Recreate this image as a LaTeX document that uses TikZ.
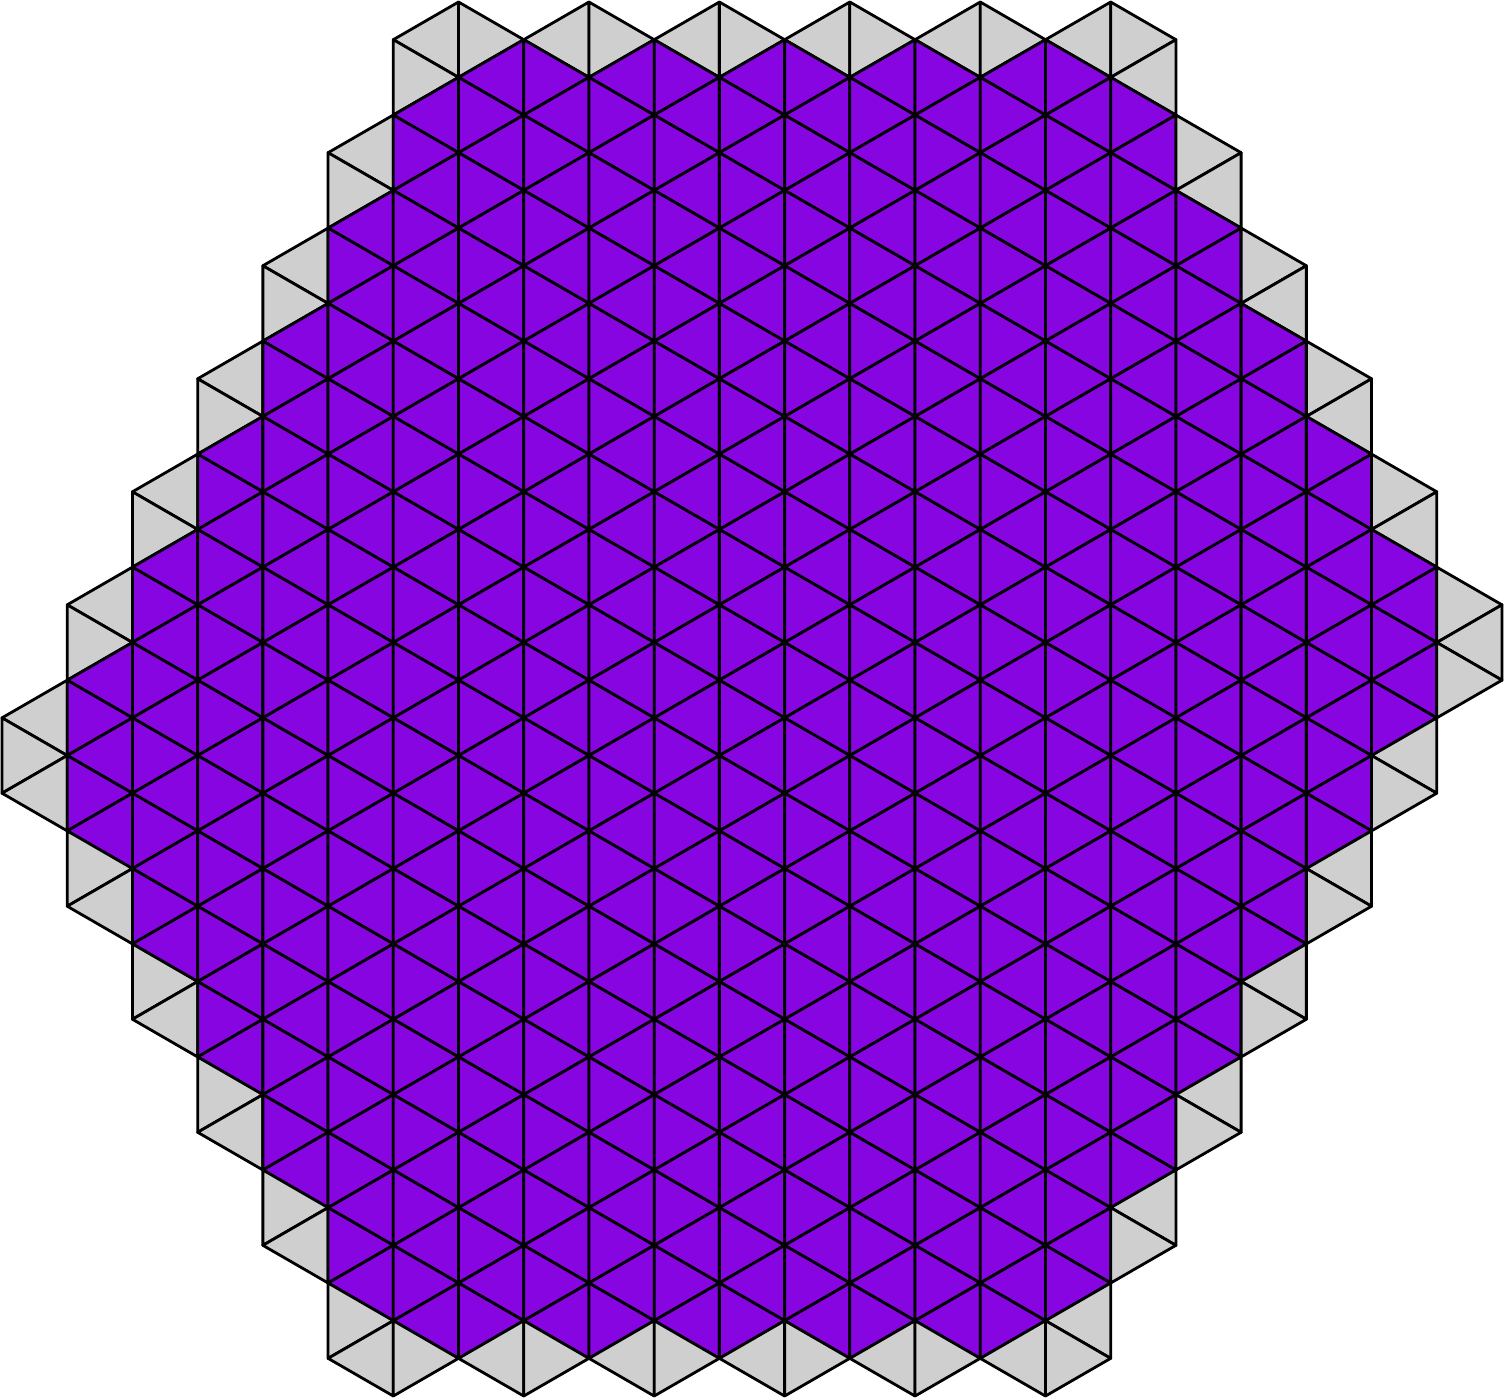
\documentclass[tikz,border=0pt]{standalone}
\definecolor{cellpurple}{RGB}{134,5,224}
\definecolor{cellgray}{RGB}{207,207,207}
\begin{document}
\begin{tikzpicture}[x=0.5pt,y=-0.5pt,
  cell/.style={draw=black,line width=1.4pt,line join=round}]
\useasboundingbox (0,0) rectangle (1504,1398);
\foreach \i in {0,...,22}{
  \pgfmathtruncatemacro\T{max(19-3*\i,1,3*\i-50)}
  \pgfmathtruncatemacro\B{min(21+3*\i,36,84-3*\i)}
  \pgfmathtruncatemacro\GT{or(\i<7,\i>16) ? 2 : 1}
  \pgfmathtruncatemacro\GB{or(\i<6,\i>15) ? 2 : 1}
  \foreach \m in {\T,...,\B}{
    \pgfmathtruncatemacro\pty{mod(\i+\m,2)}
    \pgfmathtruncatemacro\isg{or(\m<\T+\GT,\m>\B-\GB) ? 1 : 0}
    \pgfmathsetmacro\xv{2+(\i+\pty)*65.217}
    \pgfmathsetmacro\xp{2+(\i+1-\pty)*65.217}
    \pgfmathsetmacro\ya{2+(\m-1)*37.676}
    \pgfmathsetmacro\ym{2+\m*37.676}
    \pgfmathsetmacro\yc{2+(\m+1)*37.676}
    \ifnum\isg=1
      \path[cell,fill=cellgray] (\xv,\ya) -- (\xv,\yc) -- (\xp,\ym) -- cycle;
    \else
      \path[cell,fill=cellpurple] (\xv,\ya) -- (\xv,\yc) -- (\xp,\ym) -- cycle;
    \fi
  }
}
\end{tikzpicture}
\end{document}
